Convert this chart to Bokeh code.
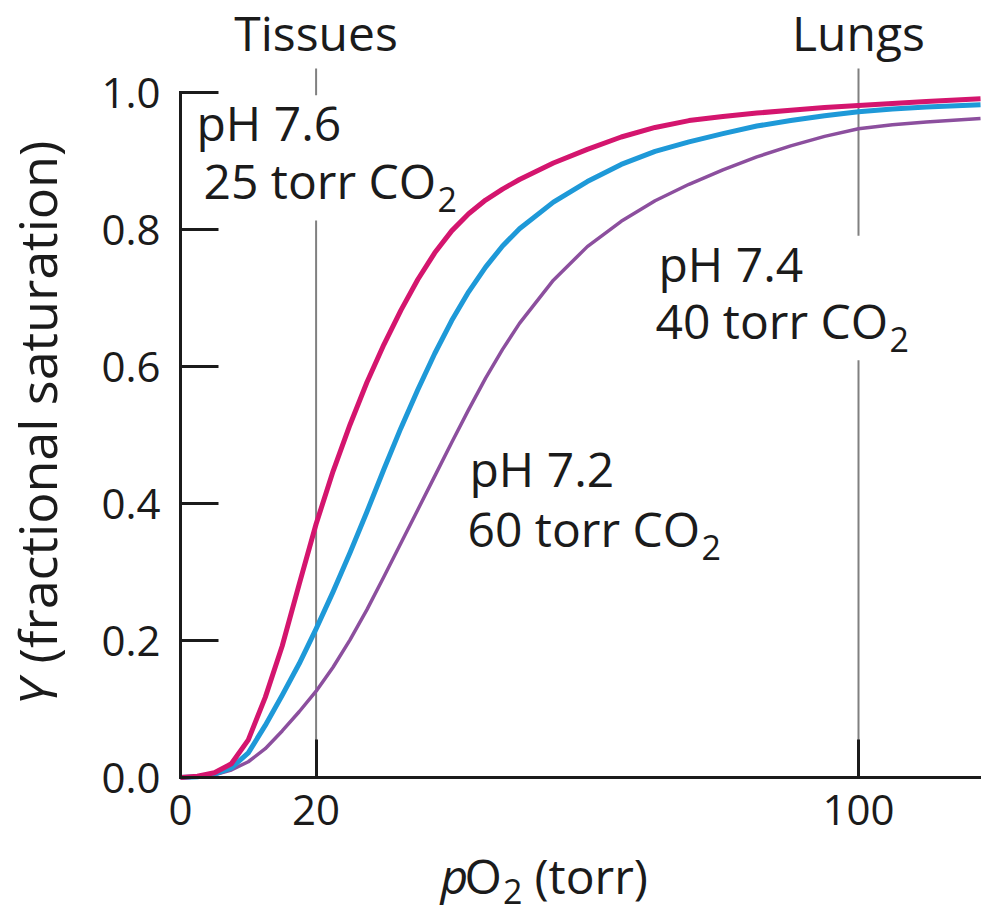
from bokeh.plotting import figure
from bokeh.models import Range1d, FixedTicker, PrintfTickFormatter, Label, ColumnDataSource
from bokeh.embed import file_html
from bokeh.resources import INLINE

# ---------------- data ----------------
po2 = [0, 2.5, 5, 7.5, 10, 12.5, 15, 17.5, 20, 22.5, 25, 27.5, 30, 32.5, 35,
       37.5, 40, 42.5, 45, 47.5, 50, 55, 60, 65, 70, 75, 80, 85, 90, 95, 100,
       105, 110, 118]
y_ph76 = [0, 0.002, 0.007, 0.020, 0.055, 0.117, 0.192, 0.282, 0.370, 0.447,
          0.515, 0.577, 0.632, 0.682, 0.727, 0.766, 0.798, 0.823, 0.843, 0.859,
          0.873, 0.897, 0.917, 0.935, 0.949, 0.959, 0.965, 0.970, 0.974, 0.978,
          0.981, 0.984, 0.987, 0.991]
y_ph74 = [0, 0.001, 0.005, 0.014, 0.036, 0.076, 0.120, 0.166, 0.217, 0.271,
          0.328, 0.388, 0.450, 0.510, 0.566, 0.619, 0.667, 0.709, 0.745, 0.776,
          0.801, 0.840, 0.870, 0.895, 0.914, 0.928, 0.940, 0.951, 0.959, 0.966,
          0.972, 0.976, 0.979, 0.982]
y_ph72 = [0, 0.001, 0.004, 0.011, 0.023, 0.042, 0.068, 0.096, 0.126, 0.161,
          0.201, 0.245, 0.293, 0.342, 0.391, 0.440, 0.489, 0.537, 0.583, 0.625,
          0.663, 0.726, 0.775, 0.812, 0.842, 0.866, 0.887, 0.906, 0.922, 0.936,
          0.947, 0.953, 0.957, 0.962]

x_ticks = [0, 20, 100]
y_ticks = [0.0, 0.2, 0.4, 0.6, 0.8, 1.0]

ref_x = [20, 100]                 # Tissues, Lungs
ref_names = ["Tissues", "Lungs"]

curve_labels = [("pH 7.6", "25 torr CO"), ("pH 7.4", "40 torr CO"), ("pH 7.2", "60 torr CO")]

# ---------------- styling / layout ----------------
INK = "#1b1b1b"
GREY = "#808080"
C76 = "#d4156e"
C74 = "#1e99d8"
C72 = "#8c4f9e"
FONT = "Open Sans"

W, H = 981, 920
X0_PX, Y0_PX = 180, 777     # page position of the origin
PX_X = 6.78                 # px per torr
PX_Y = 685.0                # px per unit of Y
BASE_K = 0.42               # label box -> alphabetic baseline correction (em)


def dx(px):
    return (px - X0_PX) / PX_X


def dy(py):
    return (Y0_PX - py) / PX_Y


# Open Sans advance widths (em) for placing subscripts
ADV = {'0': .572, '1': .572, '2': .572, '3': .572, '4': .572, '5': .572, '6': .572,
       '7': .572, '8': .572, '9': .572, ' ': .260, 't': .353, 'o': .604, 'r': .408,
       'C': .634, 'O': .781, 'p': .613, 'H': .740, '.': .266, '(': .296, ')': .296}


def text_w(s, size):
    return sum(ADV.get(ch, .55) for ch in s) * size


p = figure(width=W, height=H,
           x_range=Range1d(dx(0), dx(W)), y_range=Range1d(dy(H), dy(0)),
           output_backend="svg", toolbar_location=None,
           min_border_left=0, min_border_right=0, min_border_top=0, min_border_bottom=0)
p.outline_line_color = None
p.grid.visible = False
p.background_fill_color = "white"
p.border_fill_color = "white"

for ax in (p.xaxis[0], p.yaxis[0]):
    ax.fixed_location = 0
    ax.axis_line_width = 3
    ax.axis_line_color = INK
    ax.axis_line_cap = "square"
    ax.major_tick_line_width = 3
    ax.major_tick_line_color = INK
    ax.major_tick_in = 38
    ax.major_tick_out = 0
    ax.minor_tick_line_color = None
    ax.major_label_text_font = FONT
    ax.major_label_text_font_size = "42px"
    ax.major_label_text_color = INK

p.xaxis.ticker = FixedTicker(ticks=x_ticks)
p.yaxis.ticker = FixedTicker(ticks=y_ticks)
p.yaxis.formatter = PrintfTickFormatter(format="%.1f")
p.yaxis.bounds = (0, 1)
p.xaxis.bounds = (0, dx(W))
p.xaxis.major_label_standoff = 17
p.yaxis.major_label_standoff = 20

# reference lines (with gaps where the labels sit)
seg = ColumnDataSource(dict(
    x0=[ref_x[0], ref_x[0], ref_x[1], ref_x[1]],
    y0=[0, 0.996, 0, 0.791],
    y1=[0.813, 1.035, 0.609, 1.035]))
p.segment(x0="x0", y0="y0", x1="x0", y1="y1", source=seg, line_color=GREY, line_width=2)

src = ColumnDataSource(dict(x=po2, a=y_ph76, b=y_ph74, c=y_ph72))
p.line("x", "c", source=src, line_color=C72, line_width=3.5, line_join="round")
p.line("x", "b", source=src, line_color=C74, line_width=5, line_join="round")
p.line("x", "a", source=src, line_color=C76, line_width=5, line_join="round")


def lab(text, px, py, size, style="normal", x_offset=0, angle=0, align="left"):
    """px, py: wanted page position of the text's start on its baseline."""
    if angle:
        x, y = dx(px - BASE_K * size), dy(py)
    else:
        x, y = dx(px), dy(py - BASE_K * size)
    p.add_layout(Label(x=x, y=y, text=text, text_font=FONT, text_font_size=f"{size}px",
                       text_font_style=style, text_color=INK, x_offset=x_offset,
                       angle=angle, text_align=align, text_baseline="alphabetic"))


# Tissues / Lungs
for xv, name in zip(ref_x, ref_names):
    lab(name, X0_PX + xv * PX_X, 52, 48, align="center")

# curve annotations
ANN = 48
SUB = 34
SUB_DROP = 13
ann_pos = [(196, 142, 203, 200), (658, 283, 655, 340), (469, 488, 467, 548)]
for (l1, l2), (x1, y1, x2, y2) in zip(curve_labels, ann_pos):
    lab(l1, x1, y1, ANN)
    lab(l2, x2, y2, ANN)
    lab("2", x2, y2 + SUB_DROP, SUB, x_offset=text_w(l2, ANN) + 1)

# x axis title: pO2 (torr)
xl, yl = 440, 895
lab("p", xl, yl, ANN, style="italic")
lab("O", xl, yl, ANN, x_offset=24)
lab("2", xl, yl + 10, SUB, x_offset=24 + text_w("O", ANN) + 1)
lab("(torr)", xl, yl, ANN, x_offset=24 + text_w("O", ANN) + 1 + text_w("2", SUB) + 12)

# y axis title: Y (fractional saturation)
YS = 52
xy, yy = 58, 705
lab("Y", xy, yy, YS, style="italic", angle=1.5708)
lab("(fractional saturation)", xy, yy - (0.55 + 0.26) * YS, YS, angle=1.5708)

open("out.html", "w").write(file_html(p, INLINE))
